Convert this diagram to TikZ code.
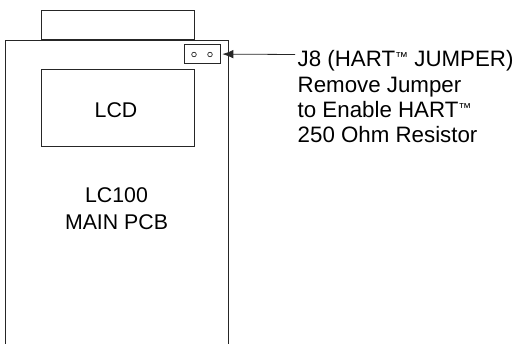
\documentclass[tikz,border=0pt]{standalone}
\usepackage{fontspec}
\setmainfont{Liberation Sans}
\usetikzlibrary{arrows.meta}
\newcommand{\tmark}{{\fontsize{13}{13}\selectfont\raisebox{5.5pt}{™}}}
\begin{document}
\begin{tikzpicture}[x=1pt,y=1pt,
  line/.style={draw=black!85,line width=0.8pt},
  boxtext/.style={font=\fontsize{21.3}{26.6}\selectfont,inner sep=0pt},
  notetext/.style={font=\fontsize{22.3}{25.4}\selectfont,inner sep=0pt,align=left}]
\useasboundingbox (0,0) rectangle (519,343);
% top connector box
\node[line,inner sep=0pt,minimum width=153pt,minimum height=29pt,anchor=south west] (top) at (41,303) {};
% main PCB (open at bottom)
\coordinate (mbl) at (5,-2);
\coordinate (mtl) at (5,303);
\coordinate (mtr) at (228,303);
\coordinate (mbr) at (228,-2);
\draw[line] (mbl) -- (mtl) -- (mtr) -- (mbr);
% LCD
\node[line,inner sep=0pt,minimum width=153pt,minimum height=77pt,anchor=south west] (lcd) at (41,196) {};
\node[boxtext,anchor=base] (lcdt) at (116,225.7) {LCD};
\node[boxtext,anchor=base] (pcb1) at (116.5,140.3) {LC100};
\node[boxtext,anchor=base] (pcb2) at (116.5,113.7) {MAIN PCB};
% jumper
\node[line,inner sep=0pt,minimum width=36pt,minimum height=19pt,anchor=south west] (jmp) at (184,279) {};
\node[draw=black!85,line width=0.7pt,circle,inner sep=0pt,minimum size=4.6pt] (p1) at (194,288.5) {};
\node[draw=black!85,line width=0.7pt,circle,inner sep=0pt,minimum size=4.6pt] (p2) at (210,288.5) {};
% label
\node[notetext,anchor=base west] (lbl) at (297.5,200) {J8 (HART\tmark\ JUMPER)\\Remove Jumper\\to Enable HART\tmark\\250 Ohm Resistor};
\coordinate (astart) at (295,288.5);
\draw[line,-{Latex[length=11pt,width=8.5pt]},shorten >=1.5pt] (astart) -- (jmp.east);
\end{tikzpicture}
\end{document}
